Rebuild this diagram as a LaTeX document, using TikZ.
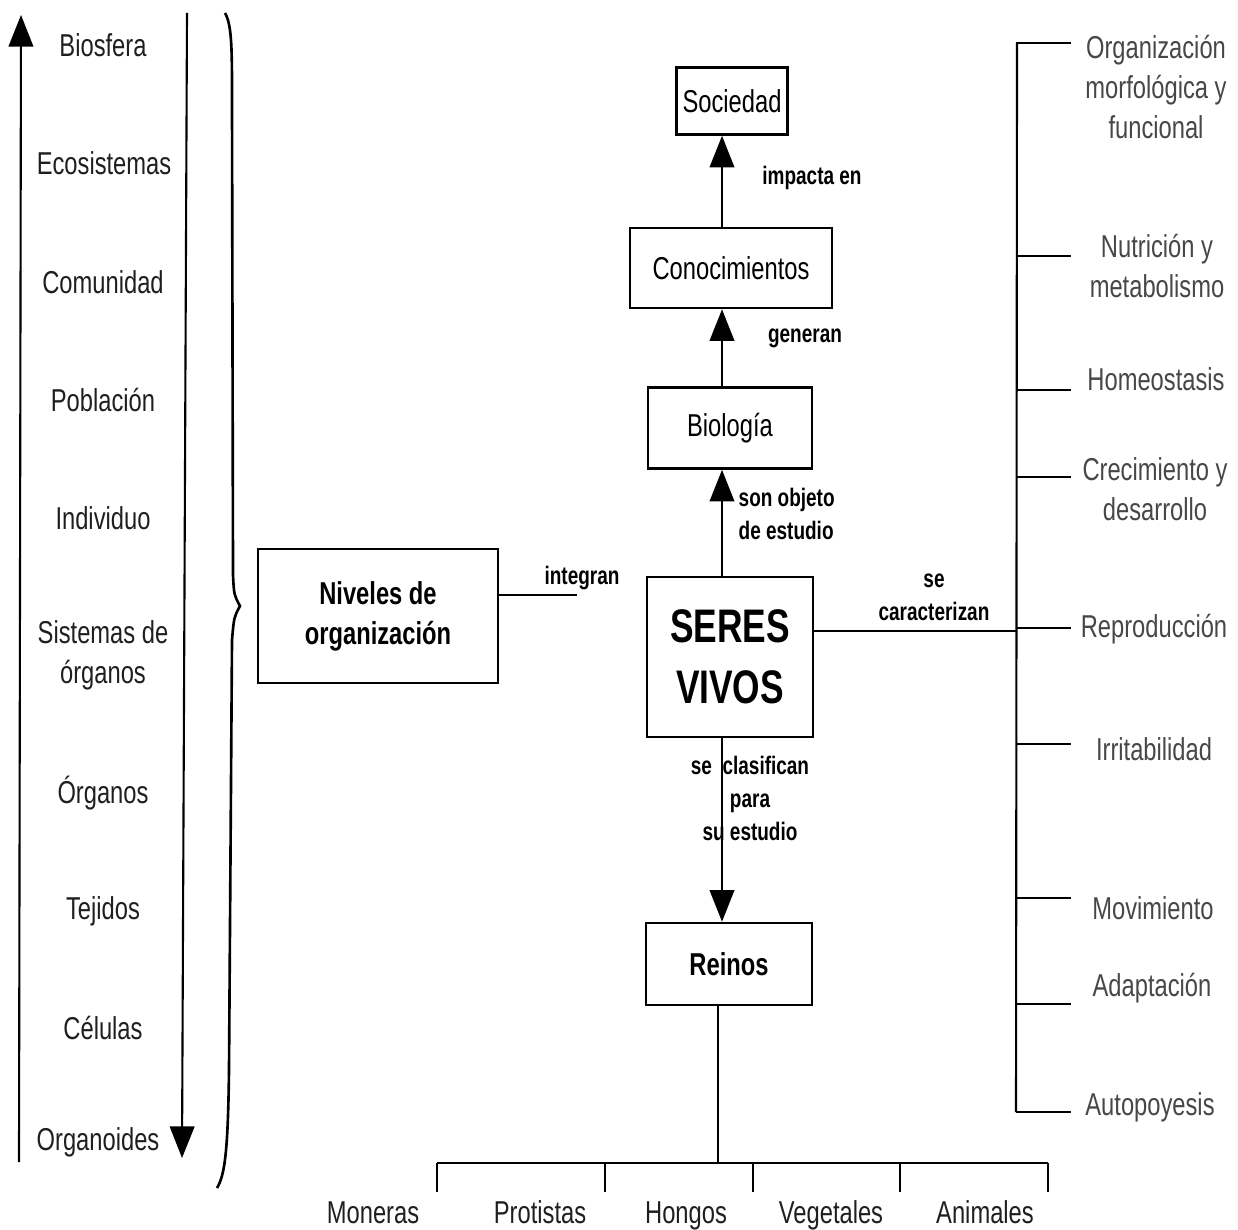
\documentclass[tikz,border=0pt]{standalone}
\usepackage{fontspec}
\setmainfont{Liberation Sans}[FakeStretch=0.75]
\usetikzlibrary{arrows.meta}
\begin{document}
\begin{tikzpicture}[x=0.1mm,y=-0.1mm,
  box/.style={draw, line width=0.75pt, inner sep=0pt, align=center, font=\fontsize{9}{11.4}\selectfont},
  bbox/.style={box, font=\bfseries\fontsize{9}{11.4}\selectfont},
  lbl/.style={font=\bfseries\fontsize{7.2}{9.4}\selectfont, inner sep=0pt, align=center},
  lvl/.style={font=\fontsize{9}{11.4}\selectfont, inner sep=0pt, align=center, text=black!88},
  rtx/.style={font=\fontsize{9}{11.4}\selectfont, inner sep=0pt, align=center, text=black!72},
  ln/.style={line width=0.6pt},
  arr/.style={-{Triangle[width=7pt,length=9pt]}, line width=0.6pt}]
\useasboundingbox (0,0) rectangle (1238,1229);

% ---------- left column: levels ----------
\node[lvl] (l1) at (103,45) {Biosfera};
\node[lvl] (l2) at (104,163) {Ecosistemas};
\node[lvl] (l3) at (103,282) {Comunidad};
\node[lvl] (l4) at (103,400) {Población};
\node[lvl] (l5) at (103,518) {Individuo};
\node[lvl] (l6) at (103,655) {Sistemas de\\órganos};
\node[lvl] (l7) at (103,793) {Órganos};
\node[lvl] (l8) at (103,911) {Tejidos};
\node[lvl] (l9) at (103,1028) {Células};
\node[lvl] (l10) at (98,1142) {Organoides};

\coordinate (upB) at (19,1162);
\coordinate (upT) at (21,15);
\draw[arr] (upB) -- (upT);
\coordinate (dnT) at (187,13);
\coordinate (dnB) at (182,1158);
\draw[arr] (dnT) -- (dnB);

% brace
\draw[line width=0.75pt] (225,13) .. controls (232,25) and (232,50) .. (232,100)
  -- (233,575) .. controls (234,595) .. (240,606)
  .. controls (234,617) .. (232,640)
  -- (229,1070) .. controls (228,1150) and (225,1175) .. (217,1188);

% ---------- central boxes ----------
\node[box, minimum width=11.1mm, minimum height=6.7mm] (Soc) at (732,101) {Sociedad};
\node[box, minimum width=20.2mm, minimum height=8.0mm] (Con) at (731,268) {Conocimientos};
\node[box, minimum width=16.4mm, minimum height=8.1mm] (Bio) at (730,428) {Biología};
\node[box, minimum width=16.6mm, minimum height=16mm,
      font=\bfseries\fontsize{13.4}{17.4}\selectfont] (SV) at (730,657) {SERES\\VIVOS};
\node[bbox, minimum width=16.6mm, minimum height=8.2mm] (Rei) at (729,964) {Reinos};
\node[bbox, minimum width=24mm, minimum height=13.4mm] (Niv) at (378,616) {Niveles de\\organización};

\coordinate (ax) at (722,0);
\draw[arr] (Con.north -| ax) -- (Soc.south -| ax);
\draw[arr] (Bio.north -| ax) -- (Con.south -| ax);
\draw[arr] (SV.north -| ax) -- (Bio.south -| ax);
\draw[arr] (SV.south -| ax) -- (Rei.north -| ax);

\node[lbl] (la1) at (812,178) {impacta en};
\node[lbl] (la2) at (805,338) {generan};
\node[lbl, align=left, anchor=west] (la3) at (738,514) {son objeto\\de estudio};
\node[lbl] (la4) at (750,798) {se \ clasifican\\para\\su estudio};

% integran
\coordinate (intEnd) at (577,595);
\draw[ln] (intEnd -| Niv.east) -- (intEnd);
\node[lbl] (la5) at (582,578) {integran};

% ---------- right bracket ----------
\coordinate (rTop) at (1017,43);
\coordinate (rBot) at (1016,1112);
\draw[ln] (rTop) -- (rBot);
\coordinate (sc) at (1016,631);
\draw[ln] (sc -| SV.east) -- (sc);
\node[lbl] (la6) at (934,597) {se\\caracterizan};

\foreach \y/\n in {43/t1,256/t2,390/t3,477/t4,628/t5,744/t6,898/t7,1004/t8,1112/t9}{
  \coordinate (\n) at (1016,\y);
  \draw[ln] (\n) -- ++(55,0);
}
\node[rtx] (r1) at (1156,87) {Organización\\morfológica y\\funcional};
\node[rtx] (r2) at (1157,266) {Nutrición y\\metabolismo};
\node[rtx] (r3) at (1156,379) {Homeostasis};
\node[rtx] (r4) at (1155,489) {Crecimiento y\\desarrollo};
\node[rtx] (r5) at (1154,629) {Reproducción};
\node[rtx] (r6) at (1154,749) {Irritabilidad};
\node[rtx] (r7) at (1153,908) {Movimiento};
\node[rtx] (r8) at (1152,988) {Adaptación};
\node[rtx] (r9) at (1150,1107) {Autopoyesis};

% ---------- bottom tree ----------
\coordinate (hub) at (718,1163);
\draw[ln] (Rei.south -| hub) -- (hub);
\coordinate (k1) at (437,1163);
\coordinate (k2) at (605,1163);
\coordinate (k3) at (753,1163);
\coordinate (k4) at (900,1163);
\coordinate (k5) at (1048,1163);
\draw[line width=0.75pt] (k1) -- (k5);
\foreach \k in {k1,k2,k3,k4,k5}{ \draw[ln] (\k) -- ++(0,29); }
\node[lvl, anchor=base] (m1) at (373,1223) {Moneras};
\node[lvl, anchor=base] (m2) at (540,1223) {Protistas};
\node[lvl, anchor=base] (m3) at (686,1223) {Hongos};
\node[lvl, anchor=base] (m4) at (831,1223) {Vegetales};
\node[lvl, anchor=base] (m5) at (985,1223) {Animales};
\end{tikzpicture}
\end{document}
